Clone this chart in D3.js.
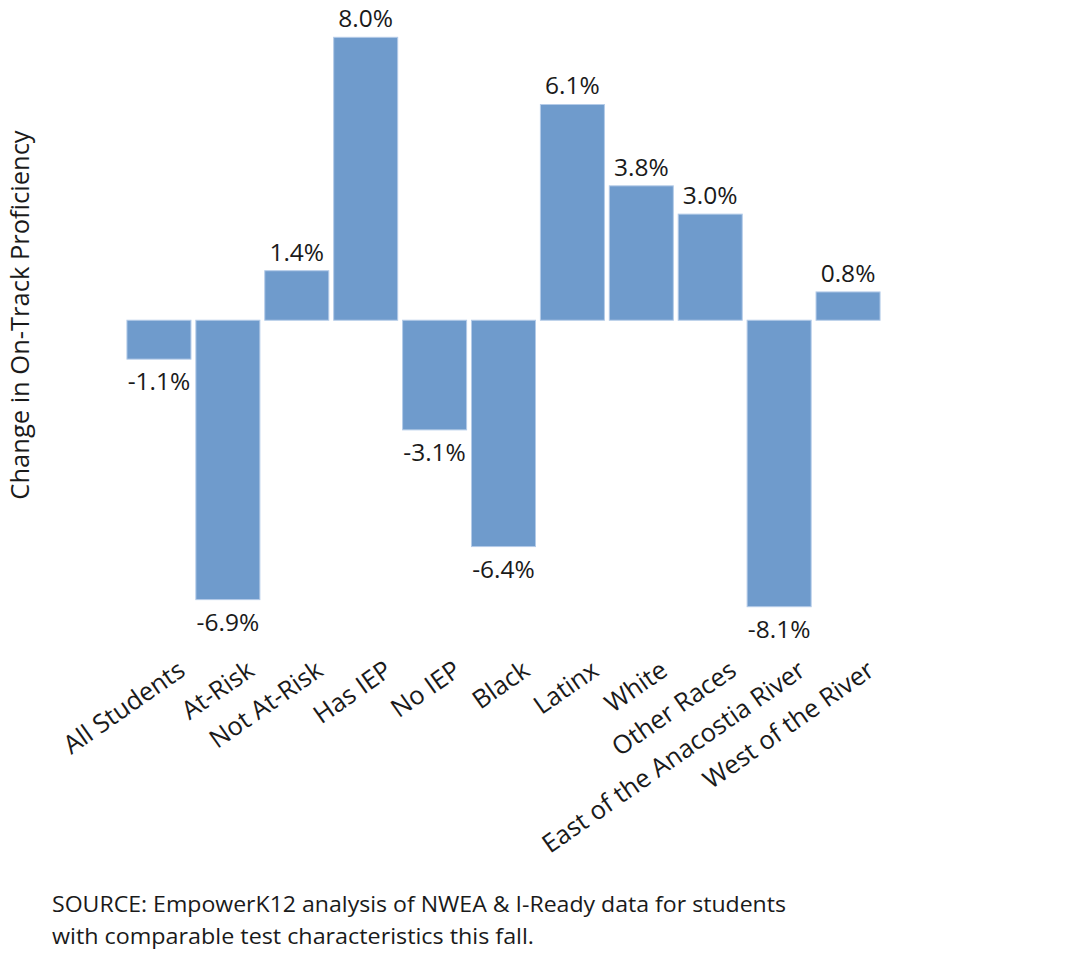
<!DOCTYPE html>
<html>
<head>
<meta charset="utf-8">
<script src="https://cdn.jsdelivr.net/npm/d3@7"></script>
<style>
  html, body { margin: 0; padding: 0; background: #fff; }
  svg { display: block; font-family: "Open Sans", "Noto Sans", sans-serif; }
</style>
</head>
<body>
<svg id="chart" width="1079" height="954"></svg>
<script>
const categories = ["All Students", "At-Risk", "Not At-Risk", "Has IEP", "No IEP", "Black",
                    "Latinx", "White", "Other Races", "East of the Anacostia River", "West of the River"];
// bar lengths as drawn in the reference
const barValues = [-1.1, -7.9, 1.4, 8.0, -3.1, -6.4, 6.1, 3.8, 3.0, -8.1, 0.8];
// value labels as printed in the reference
const valueLabels = ["-1.1%", "-6.9%", "1.4%", "8.0%", "-3.1%", "-6.4%", "6.1%", "3.8%", "3.0%", "-8.1%", "0.8%"];
const yTitle = "Change in On-Track Proficiency";
const sourceLines = ["SOURCE: EmpowerK12 analysis of NWEA & I-Ready data for students",
                     "with comparable test characteristics this fall."];

const svg = d3.select("#chart");
const data = categories.map((c, i) => ({ cat: c, v: barValues[i], label: valueLabels[i] }));

const x = d3.scaleBand().domain(categories).range([124.5, 882.5])
  .paddingInner(0.071).paddingOuter(0.0355);
const y = d3.scaleLinear().domain([-8.1, 8.0]).range([606.7, 37.3]);

const barFill = "#6f9bcc";
const barStroke = "#b4cbe8";
const textColor = "#1a1a1a";

svg.append("g").selectAll("rect").data(data).join("rect")
  .attr("x", d => x(d.cat))
  .attr("width", x.bandwidth())
  .attr("y", d => y(Math.max(0, d.v)))
  .attr("height", d => Math.abs(y(d.v) - y(0)))
  .attr("fill", barFill)
  .attr("stroke", barStroke)
  .attr("stroke-width", 1);

// value labels
svg.append("g").selectAll("text").data(data).join("text")
  .attr("x", d => x(d.cat) + x.bandwidth() / 2)
  .attr("y", d => d.v >= 0 ? y(d.v) - 10 : y(d.v) + 31)
  .attr("text-anchor", "middle")
  .attr("font-size", 24.5)
  .attr("fill", textColor)
  .text(d => d.label);

// category axis labels (rotated)
const xAxis = d3.axisBottom(x).tickSize(0).tickPadding(0);
const gx = svg.append("g").attr("transform", "translate(0,674)").call(xAxis);
gx.select(".domain").remove();
gx.selectAll(".tick text")
  .style("font-size", "25.5px")
  .style("font-family", "\"Open Sans\", \"Noto Sans\", sans-serif")
  .attr("fill", textColor)
  .attr("text-anchor", "end")
  .attr("dy", 0)
  .attr("y", 0)
  .attr("x", 0)
  .attr("transform", "translate(28,0) rotate(-35)");

// y axis title
svg.append("text")
  .attr("transform", "translate(29,315) rotate(-90)")
  .attr("text-anchor", "middle")
  .attr("font-size", 25.5)
  .attr("fill", textColor)
  .text(yTitle);

// source note
svg.append("g").selectAll("text").data(sourceLines).join("text")
  .attr("x", 52)
  .attr("y", (d, i) => 912 + i * 32)
  .attr("font-size", 22)
  .attr("fill", textColor)
  .attr("textLength", (d, i) => i === 0 ? 734 : 482)
  .attr("lengthAdjust", "spacingAndGlyphs")
  .text(d => d);
</script>
</body>
</html>
